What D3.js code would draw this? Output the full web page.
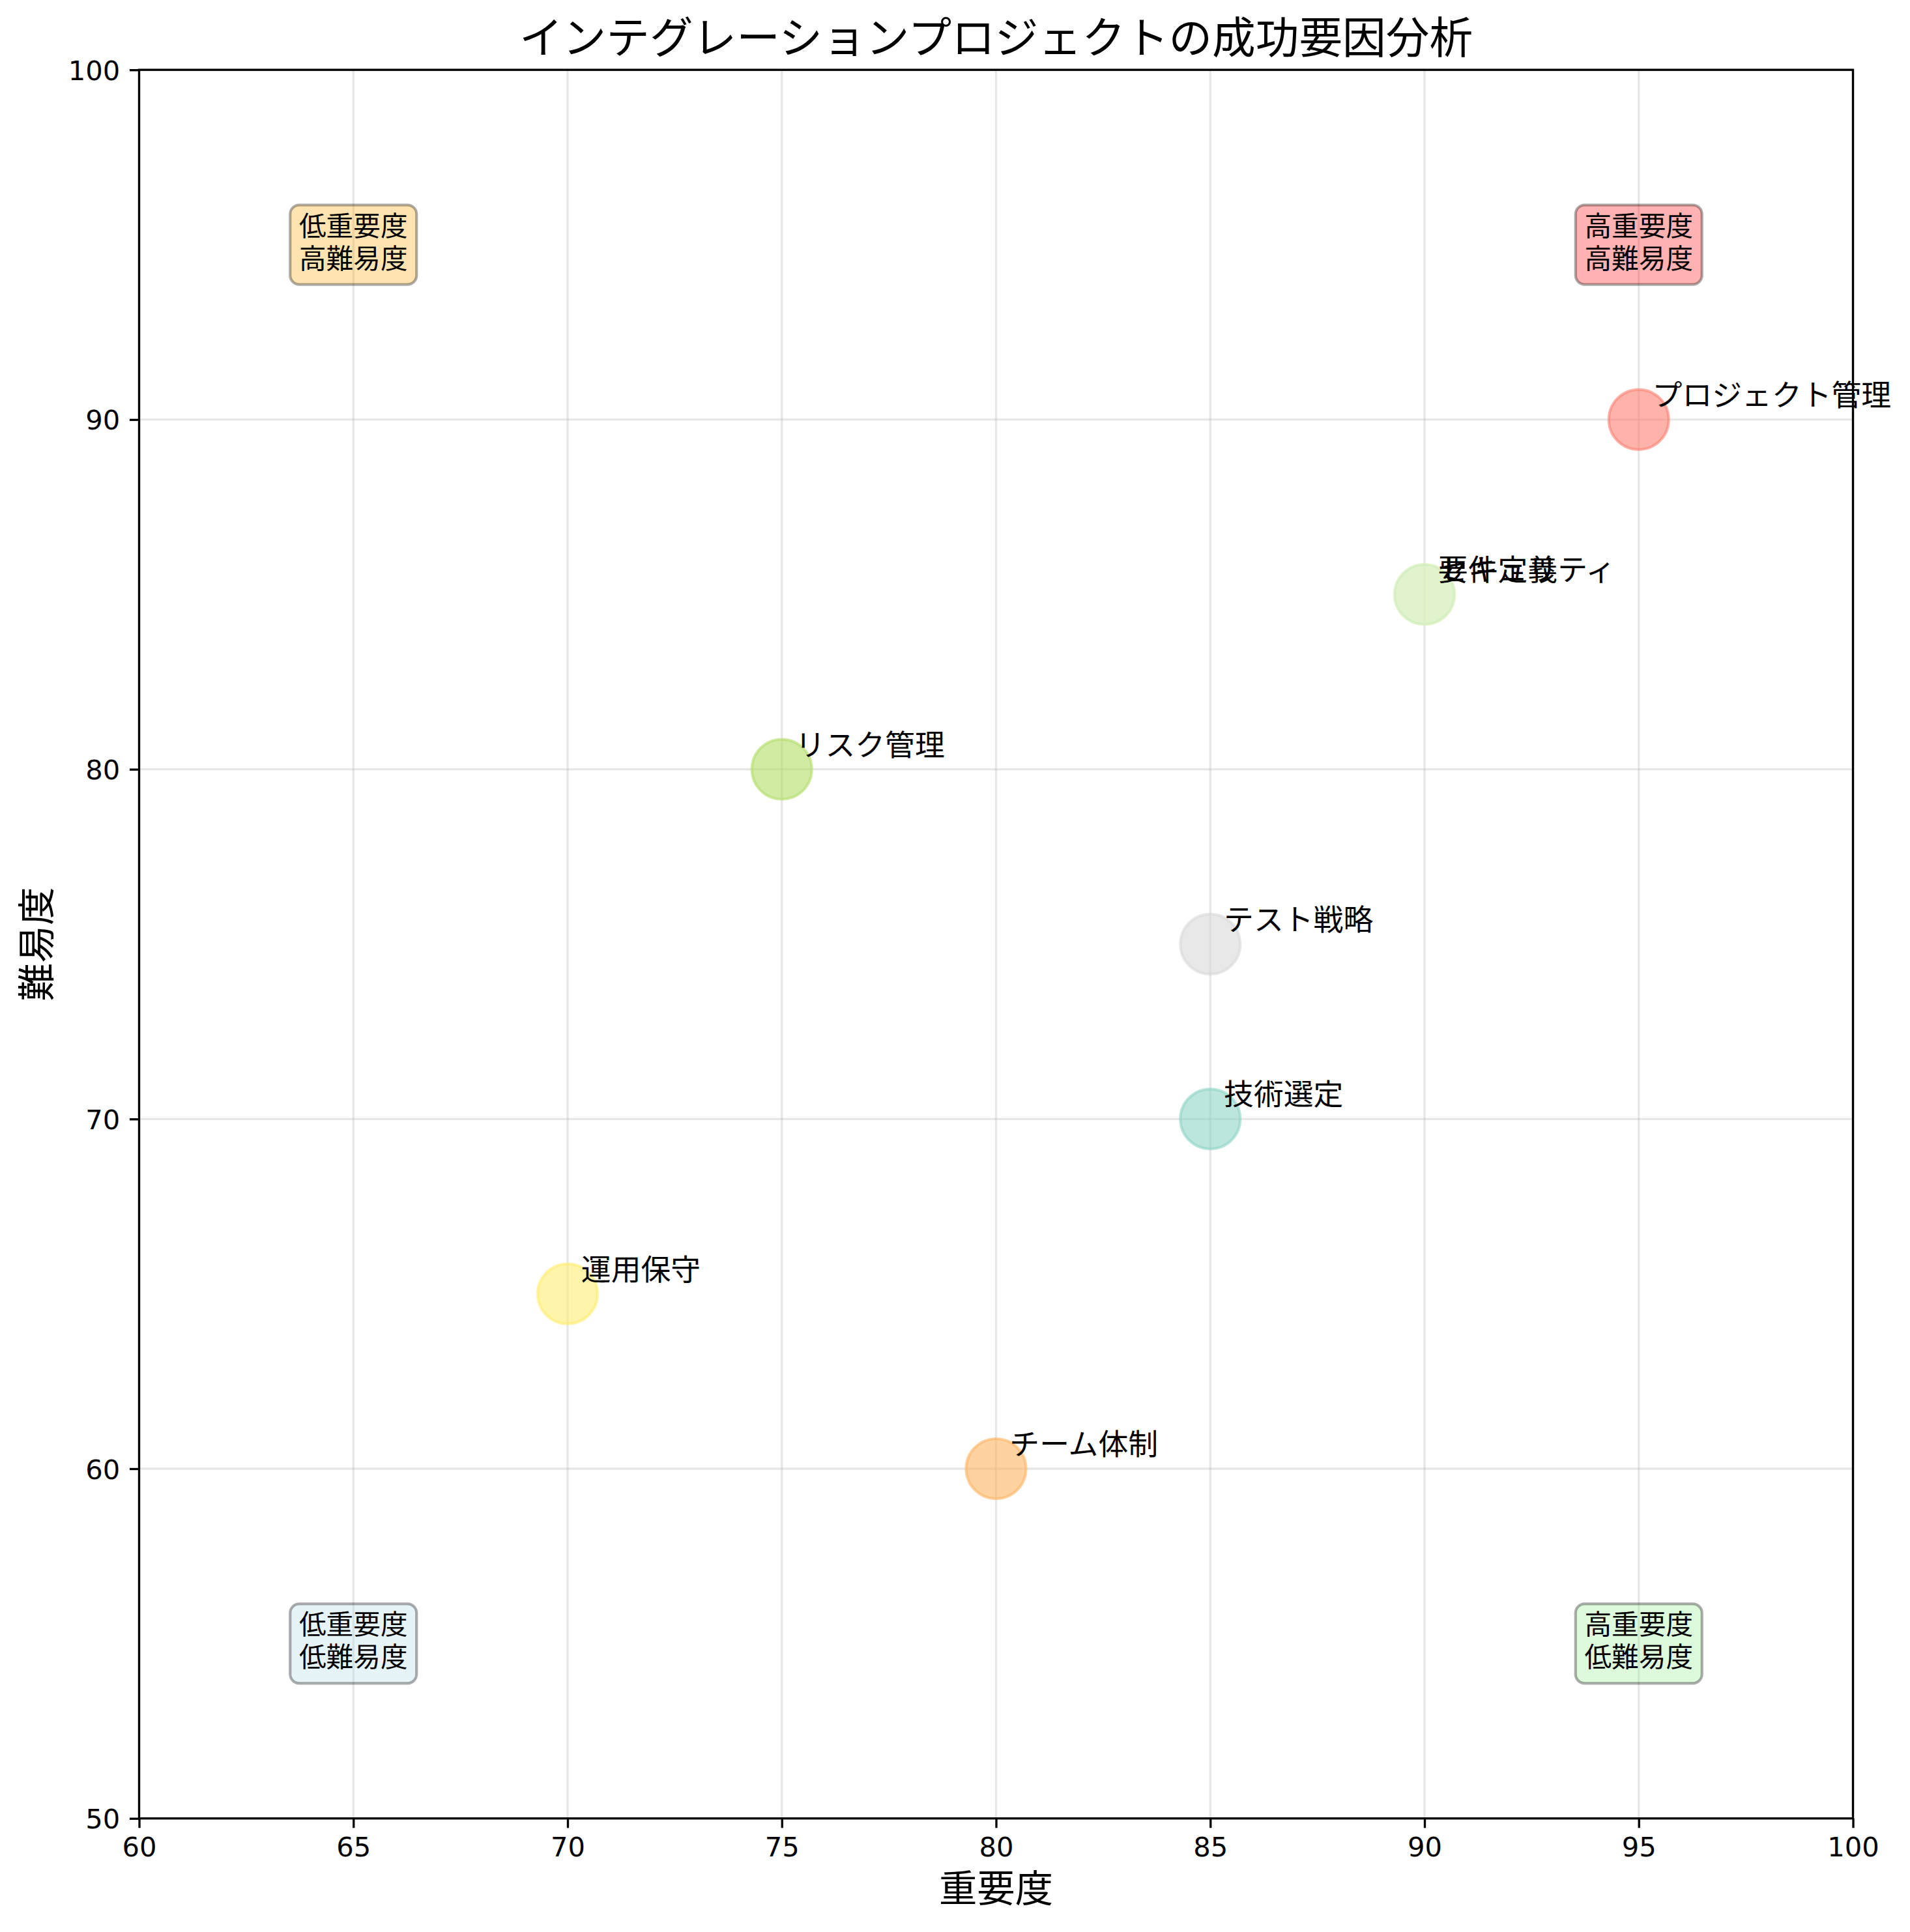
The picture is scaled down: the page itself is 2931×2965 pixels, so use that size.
<!DOCTYPE html>
<html>
<head>
<meta charset="utf-8">
<script src="https://cdn.jsdelivr.net/npm/d3@7"></script>
<style>
  html, body { margin: 0; padding: 0; background: #ffffff; }
  svg { display: block; }
</style>
</head>
<body>
<div id="chart"></div>
<script>
// ---- data ----
const factors = ["技術選定", "要件定義", "プロジェクト管理", "チーム体制", "リスク管理", "テスト戦略", "セキュリティ", "運用保守"];
const importance = [85, 90, 95, 80, 75, 85, 90, 70];
const difficulty = [70, 85, 90, 60, 80, 75, 85, 65];
const bubbleColors = ["#8dd3c7", "#ffffb3", "#fb8072", "#fdb462", "#b3de69", "#d9d9d9", "#ccebc5", "#ffed6f"];

const quadrantLabels = [["低重要度", "高難易度"], ["高重要度", "高難易度"], ["低重要度", "低難易度"], ["高重要度", "低難易度"]];
const quadrantX = [65, 95, 65, 95];
const quadrantY = [95, 95, 55, 55];
const quadrantColors = ["orange", "red", "lightblue", "lightgreen"];

const xTicks = [60, 65, 70, 75, 80, 85, 90, 95, 100];
const yTicks = [50, 60, 70, 80, 90, 100];
const xDomain = [60, 100];
const yDomain = [50, 100];

const titleText = "インテグレーションプロジェクトの成功要因分析";
const xLabelText = "重要度";
const yLabelText = "難易度";

// ---- layout ----
const W = 2931, H = 2965;
const pL = 213.5, pR = 2843.5, pT = 107.2, pB = 2790.7;
const pt = 300 / 72;
const CJK = "'Noto Sans CJK JP', 'Noto Sans CJK SC', sans-serif";
const NUM = "'DejaVu Sans', sans-serif";

const x = d3.scaleLinear().domain(xDomain).range([pL, pR]);
const y = d3.scaleLinear().domain(yDomain).range([pB, pT]);

const svg = d3.select("#chart").append("svg")
  .attr("width", W).attr("height", H)
  .attr("viewBox", `0 0 ${W} ${H}`);

svg.append("rect").attr("width", W).attr("height", H).attr("fill", "#ffffff");

// grid
const grid = svg.append("g");
grid.selectAll("line.gx").data(xTicks).join("line").attr("class", "gx")
  .attr("x1", d => x(d)).attr("x2", d => x(d))
  .attr("y1", pT).attr("y2", pB)
  .attr("stroke", "#b0b0b0").attr("stroke-opacity", 0.3).attr("stroke-width", 0.8 * pt);
grid.selectAll("line.gy").data(yTicks).join("line").attr("class", "gy")
  .attr("y1", d => y(d)).attr("y2", d => y(d))
  .attr("x1", pL).attr("x2", pR)
  .attr("stroke", "#b0b0b0").attr("stroke-opacity", 0.3).attr("stroke-width", 0.8 * pt);

// bubbles
const pts = factors.map((f, i) => ({ f, x: importance[i], y: difficulty[i], c: bubbleColors[i] }));
svg.append("g").selectAll("circle").data(pts).join("circle")
  .attr("cx", d => x(d.x)).attr("cy", d => y(d.y))
  .attr("r", 46)
  .attr("fill", d => d.c).attr("fill-opacity", 0.6)
  .attr("stroke", d => d.c).attr("stroke-opacity", 0.6)
  .attr("stroke-width", 1 * pt);

// annotations
svg.append("g").selectAll("text").data(pts).join("text")
  .attr("x", d => x(d.x) + 5 * pt)
  .attr("y", d => y(d.y) - 5 * pt)
  .attr("font-family", CJK)
  .attr("font-size", 11 * pt)
  .attr("fill", "#000")
  .text(d => d.f);

// quadrant boxes
const quads = quadrantLabels.map((l, i) => ({ l, x: quadrantX[i], y: quadrantY[i], c: quadrantColors[i] }));
const qg = svg.append("g").selectAll("g").data(quads).join("g")
  .attr("transform", d => `translate(${x(d.x)},${y(d.y)})`);
qg.append("rect")
  .attr("x", -97).attr("y", -61).attr("width", 194).attr("height", 122)
  .attr("rx", 14).attr("ry", 14)
  .attr("fill", d => d.c).attr("fill-opacity", 0.3)
  .attr("stroke", "#000").attr("stroke-opacity", 0.32).attr("stroke-width", 1 * pt);
qg.each(function(d) {
  const g = d3.select(this);
  d.l.forEach((line, j) => {
    g.append("text")
      .attr("x", 0).attr("y", -14 + j * 50)
      .attr("text-anchor", "middle")
      .attr("font-family", CJK)
      .attr("font-size", 10 * pt)
      .attr("fill", "#000")
      .text(line);
  });
});

// axes
const tickLen = 3.5 * pt, tickPad = 3.5 * pt;
const xAxis = svg.append("g").attr("transform", `translate(0,${pB})`)
  .call(d3.axisBottom(x).tickValues(xTicks).tickSize(tickLen).tickPadding(tickPad).tickFormat(d3.format("d")));
const yAxis = svg.append("g").attr("transform", `translate(${pL},0)`)
  .call(d3.axisLeft(y).tickValues(yTicks).tickSize(tickLen).tickPadding(tickPad).tickFormat(d3.format("d")));
[xAxis, yAxis].forEach(a => {
  a.select(".domain").remove();
  a.selectAll(".tick line").attr("stroke", "#000").attr("stroke-width", 0.8 * pt);
  a.selectAll(".tick text").attr("fill", "#000").attr("font-family", NUM).attr("font-size", 10 * pt);
});
yAxis.selectAll(".tick text").attr("dy", "0.36em");

// spines
svg.append("rect")
  .attr("x", pL).attr("y", pT)
  .attr("width", pR - pL).attr("height", pB - pT)
  .attr("fill", "none").attr("stroke", "#000").attr("stroke-width", 0.8 * pt);

// title & labels
svg.append("text")
  .attr("x", (pL + pR) / 2).attr("y", 82)
  .attr("text-anchor", "middle")
  .attr("font-family", CJK).attr("font-size", 16 * pt)
  .attr("fill", "#000").text(titleText);

svg.append("text")
  .attr("x", (pL + pR) / 2).attr("y", 2919)
  .attr("text-anchor", "middle")
  .attr("font-family", CJK).attr("font-size", 14 * pt)
  .attr("fill", "#000").text(xLabelText);

svg.append("text")
  .attr("transform", `translate(77,${(pT + pB) / 2}) rotate(-90)`)
  .attr("text-anchor", "middle")
  .attr("font-family", CJK).attr("font-size", 14 * pt)
  .attr("fill", "#000").text(yLabelText);
</script>
</body>
</html>
